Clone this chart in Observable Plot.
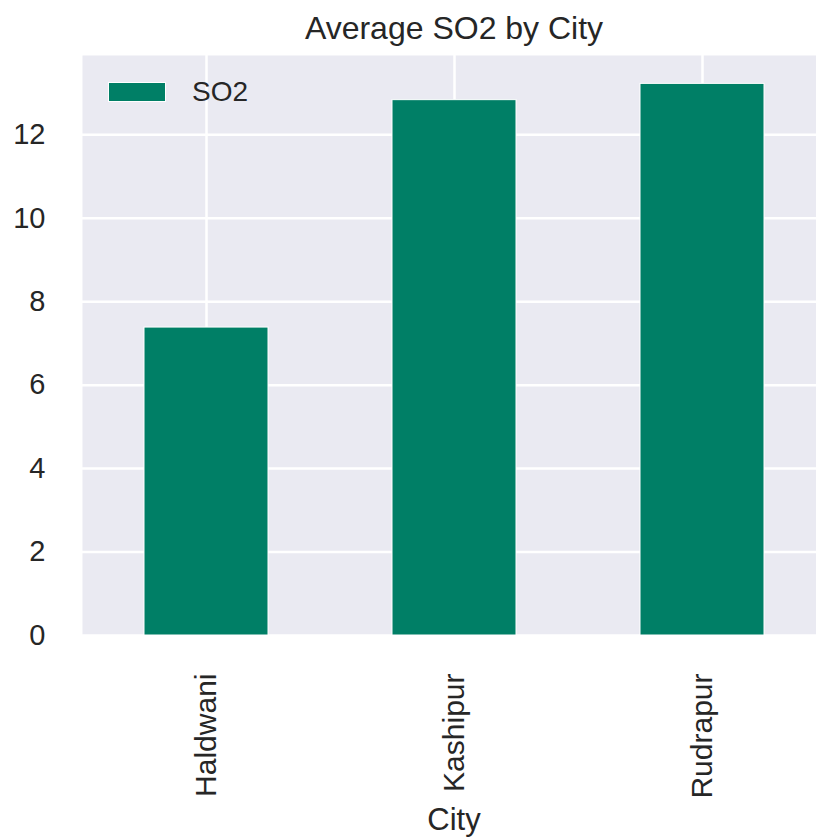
<!DOCTYPE html>
<html>
<head>
<meta charset="utf-8">
<script src="https://cdn.jsdelivr.net/npm/d3@7"></script>
<script src="https://cdn.jsdelivr.net/npm/@observablehq/plot@0.6"></script>
<style>
  html, body { margin: 0; padding: 0; background: #fff; }
  #wrap { position: relative; width: 816px; height: 840px; overflow: hidden; font-family: "Liberation Sans", Arial, sans-serif; color: #262626; }
  .lbl { position: absolute; white-space: nowrap; }
</style>
</head>
<body>
<div id="wrap">
  <div id="chart"></div>
  <div class="lbl" id="title" style="left:82px; width:744px; top:12px; text-align:center; font-size:32px; line-height:32px;">Average SO2 by City</div>
  <div class="lbl" id="xlabel" style="left:82px; width:744px; top:804px; text-align:center; font-size:31px; line-height:31px;">City</div>
  <div class="lbl" id="legendPatch" style="left:108px; top:82px; width:56px; height:18px; background:#007f66; border:1px solid #ffffff;"></div>
  <div class="lbl" id="legendText" style="left:192px; top:78px; font-size:28px; line-height:28px;">SO2</div>
</div>
<script>
const cities = ["Haldwani", "Kashipur", "Rudrapur"];
const so2 = [7.38, 12.83, 13.22];
const yTicks = [0, 2, 4, 6, 8, 10, 12];
const seriesName = "SO2";

const data = cities.map((c, i) => ({city: c, value: so2[i]}));

const chart = Plot.plot({
  width: 816,
  height: 840,
  marginTop: 55,
  marginBottom: 205,
  marginLeft: 82,
  marginRight: 0,
  style: {fontFamily: "'Liberation Sans', Arial, sans-serif", color: "#262626", background: "transparent"},
  x: {domain: cities, range: [82, 826], paddingInner: 0.5, paddingOuter: 0.25, align: 0.5},
  y: {domain: [0, 13.9]},
  marks: [
    Plot.frame({fill: "#EAEAF2", stroke: null}),
    Plot.gridY(yTicks, {stroke: "#ffffff", strokeOpacity: 1, strokeWidth: 2.5}),
    Plot.gridX(cities, {stroke: "#ffffff", strokeOpacity: 1, strokeWidth: 2.5}),
    Plot.barY(data, {x: "city", y: "value", fill: "#007f66", stroke: "#ffffff", strokeWidth: 1}),
    Plot.axisY({ticks: yTicks, tickSize: 0, tickPadding: 37, fontSize: 29, label: null, tickFormat: d => String(d)}),
    Plot.axisX({tickRotate: -90, tickSize: 0, tickPadding: 38, fontSize: 30, label: null})
  ]
});
document.getElementById("chart").appendChild(chart);
document.getElementById("legendText").textContent = seriesName;
</script>
</body>
</html>
